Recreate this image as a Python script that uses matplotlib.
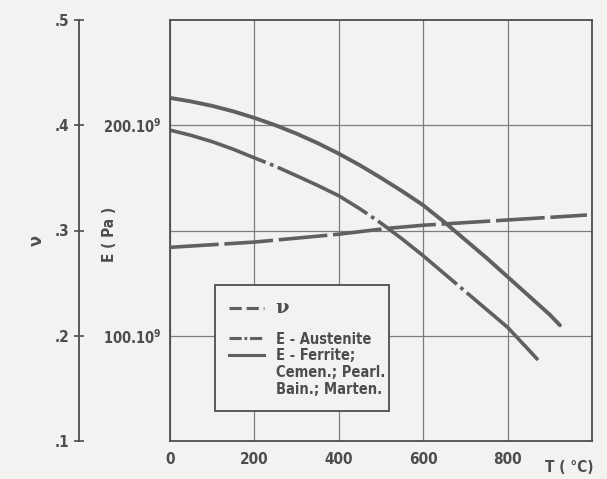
import matplotlib
matplotlib.use("Agg")
import matplotlib.pyplot as plt
from matplotlib.lines import Line2D

# Temperaturabhängigkeit von E-Modul und Querkontraktionszahl
temp_nu = [0, 200, 400, 514, 600, 800, 988]
nu = [0.284, 0.289, 0.2965, 0.302, 0.305, 0.310, 0.3147]

temp_aus = [0, 50, 100, 150, 200, 250, 300, 350, 400, 450, 500, 550, 600,
            650, 700, 750, 800, 850, 872]
e_aus = [197.7, 195.2, 192.2, 188.6, 184.5, 180.5, 176.0, 171.4, 166.5, 160.3,
         153.5, 146.0, 138.0, 129.5, 121.0, 112.5, 104.0, 93.3, 88.5]  # GPa

temp_fer = [0, 50, 100, 150, 200, 250, 300, 350, 400, 450, 500, 550, 600,
            650, 700, 750, 800, 850, 900, 924]
e_fer = [213.0, 211.3, 209.2, 206.6, 203.5, 200.0, 196.0, 191.5, 186.5, 181.0,
         175.0, 168.7, 162.0, 154.0, 145.5, 137.0, 128.0, 119.0, 110.0, 105.0]  # GPa

x_ticks = [0, 200, 400, 600, 800]
nu_ticks = [0.1, 0.2, 0.3, 0.4, 0.5]
nu_labels = [".1", ".2", ".3", ".4", ".5"]
e_ticks = [100e9, 150e9, 200e9]
e_labels = ["100.10$^{9}$", "", "200.10$^{9}$"]

paper = "#f2f2f0"
ink = "#4d4d4d"
curve = "#606060"
grid = "#7c7c7c"

plt.rcParams["font.family"] = ["DejaVu Sans"]
plt.rcParams["font.stretch"] = "condensed"
plt.rcParams["font.weight"] = "bold"
plt.rcParams["mathtext.default"] = "bf"

fig = plt.figure(figsize=(6.07, 4.79), dpi=100)
fig.patch.set_facecolor(paper)
rect = [170 / 607, 38 / 479, 422 / 607, 421 / 479]

# Hauptachse: E-Modul
ax = fig.add_axes(rect)
ax.set_facecolor("none")
ax.set_xlim(0, 1000)
ax.set_ylim(50e9, 250e9)
ax.set_xticks(x_ticks)
ax.set_xticklabels([str(t) for t in x_ticks])
ax.set_yticks(e_ticks)
ax.set_yticklabels(e_labels)
ax.tick_params(axis="x", length=0, pad=8, labelsize=11, labelcolor=ink)
ax.tick_params(axis="y", length=0, pad=6, labelsize=10.5, labelcolor=ink)
ax.grid(True, color=grid, linewidth=0.9)
for s in ax.spines.values():
    s.set_color(ink)
    s.set_linewidth(1.3)

ax.plot(temp_aus, [e * 1e9 for e in e_aus], color=curve, lw=2.6,
        linestyle=(0, (28, 1.3, 1, 1.3)))
ax.plot(temp_fer, [e * 1e9 for e in e_fer], color=curve, lw=2.8,
        solid_capstyle="round")

# zweite Achse: Querkontraktionszahl, nach links versetzt
ax_nu = fig.add_axes(rect)
ax_nu.patch.set_visible(False)
ax_nu.set_xlim(0, 1000)
ax_nu.set_ylim(0.1, 0.5)
ax_nu.set_yticks(nu_ticks)
ax_nu.set_yticklabels(nu_labels)
ax_nu.xaxis.set_visible(False)
for side in ["top", "right", "bottom"]:
    ax_nu.spines[side].set_visible(False)
ax_nu.spines["left"].set_position(("outward", 65.5))
ax_nu.spines["left"].set_color(ink)
ax_nu.spines["left"].set_linewidth(1.3)
ax_nu.tick_params(axis="y", direction="inout", length=7.5, width=1.2,
                  color=ink, pad=3, labelsize=11, labelcolor=ink)
ax_nu.plot(temp_nu, nu, color=curve, lw=2.6, linestyle=(0, (13.5, 1.6)))

# Legende mit kurzen Strichmustern, Leerzeile nach ν
blank = Line2D([], [], color="none")
handles = [
    Line2D([], [], color=curve, lw=2.2, linestyle=(0, (4, 1.6))),
    blank,
    Line2D([], [], color=curve, lw=2.2, linestyle=(0, (4, 0.9, 0.9, 0.9))),
    Line2D([], [], color=curve, lw=2.2),
    blank,
    blank,
]
labels = ["ν", " ", "E - Austenite", "E - Ferrite;", "Cemen.; Pearl.",
          "Bain.; Marten."]
leg = ax_nu.legend(handles, labels, loc="upper left",
                   bbox_to_anchor=(215 / 607, 1 - 285 / 479 - 0.01, 174 / 607, 0.01),
                   bbox_transform=fig.transFigure, mode="expand",
                   borderaxespad=0, fancybox=False, framealpha=1,
                   facecolor=paper, edgecolor=ink, fontsize=10.5,
                   handlelength=2.4, handletextpad=0.8, labelspacing=0.12,
                   borderpad=0.95)
leg.get_frame().set_linewidth(1.3)
texts = leg.get_texts()
for t in texts:
    t.set_color(ink)
texts[0].set_fontfamily(["DejaVu Serif"])
texts[0].set_fontstretch("normal")
texts[0].set_fontsize(14)
texts[1].set_fontsize(2)

fig.text(37 / 607, 1 - 240 / 479, "ν", rotation=90, ha="center", va="center",
         fontsize=13, color=ink)
fig.text(110 / 607, 1 - 234 / 479, "E ( Pa )", rotation=90, ha="center",
         va="center", fontsize=11, color=ink)
fig.text(569 / 607, 1 - 467 / 479, "T ( °C)", ha="center", va="center",
         fontsize=11, color=ink)

fig.savefig("out.png", dpi=100, facecolor=paper)
